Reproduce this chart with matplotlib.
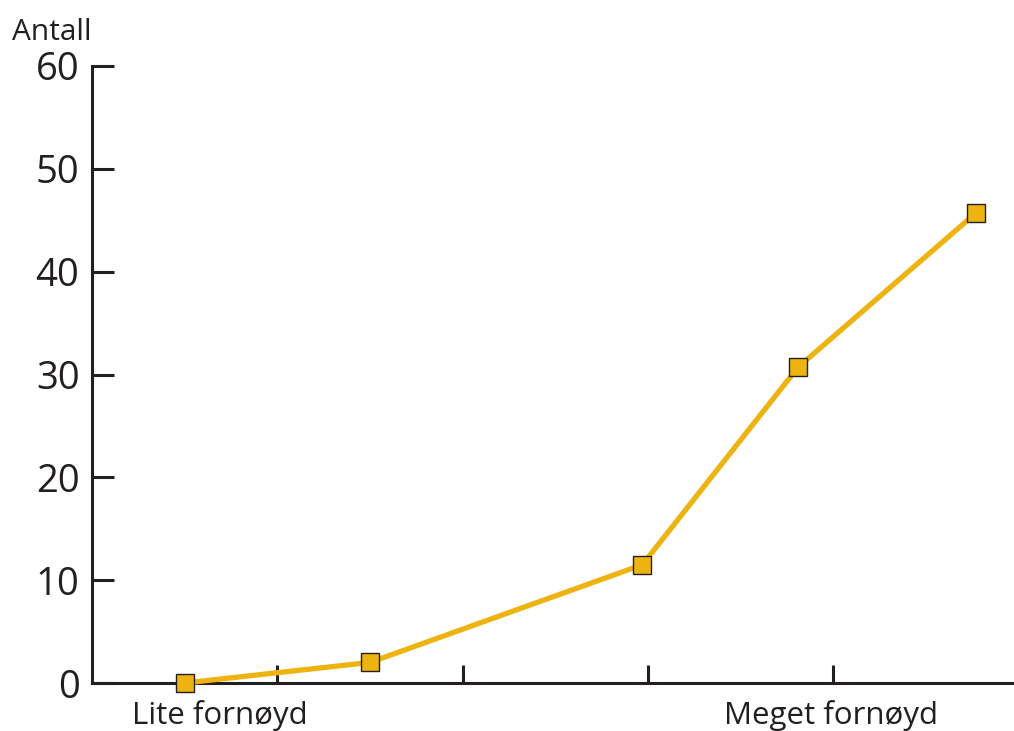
import matplotlib
matplotlib.use("Agg")
import matplotlib.pyplot as plt

# satisfaction level (position along axis) and count
levels = [0.50, 1.50, 2.97, 3.81, 4.77]
counts = [0.0, 2.0, 11.5, 30.7, 45.7]
y_ticks = [0, 10, 20, 30, 40, 50, 60]
x_ticks = [1, 2, 3, 4]
end_labels = ["Lite fornøyd", "Meget fornøyd"]
end_label_pos = [0.69, 3.99]

ink = "#231f20"
gold = "#edb311"

plt.rcParams["font.family"] = ["Open Sans", "DejaVu Sans"]

fig = plt.figure(figsize=(10.14, 7.31), dpi=100)
ax = fig.add_axes([92 / 1014, 1 - 683 / 731, 1 - 92 / 1014, (683 - 66) / 731])

ax.plot(levels, counts, color=gold, linewidth=3.8, marker="s", markersize=13,
        markerfacecolor=gold, markeredgecolor=ink, markeredgewidth=1.0, clip_on=False, zorder=3)

ax.set_xlim(0, 922 / 185.3)
ax.set_ylim(0, 60)
ax.set_yticks(y_ticks)
ax.set_xticks(x_ticks)
ax.set_xticklabels([])

for side in ["top", "right"]:
    ax.spines[side].set_visible(False)
for side in ["left", "bottom"]:
    ax.spines[side].set_linewidth(2.2)
    ax.spines[side].set_color(ink)

ax.tick_params(axis="y", direction="in", length=16, width=2.2, color=ink,
               labelsize=27.5, labelcolor=ink, pad=9)
ax.tick_params(axis="x", direction="in", length=13, width=2.2, color=ink)

for lab, pos in zip(end_labels, end_label_pos):
    ax.text(pos, -3.2, lab, ha="center", va="center", fontsize=22.5, color=ink)

fig.text(12 / 1014, 1 - 33 / 731, "Antall", ha="left", va="center", fontsize=21.5, color=ink)

fig.savefig("out.png", dpi=100)
